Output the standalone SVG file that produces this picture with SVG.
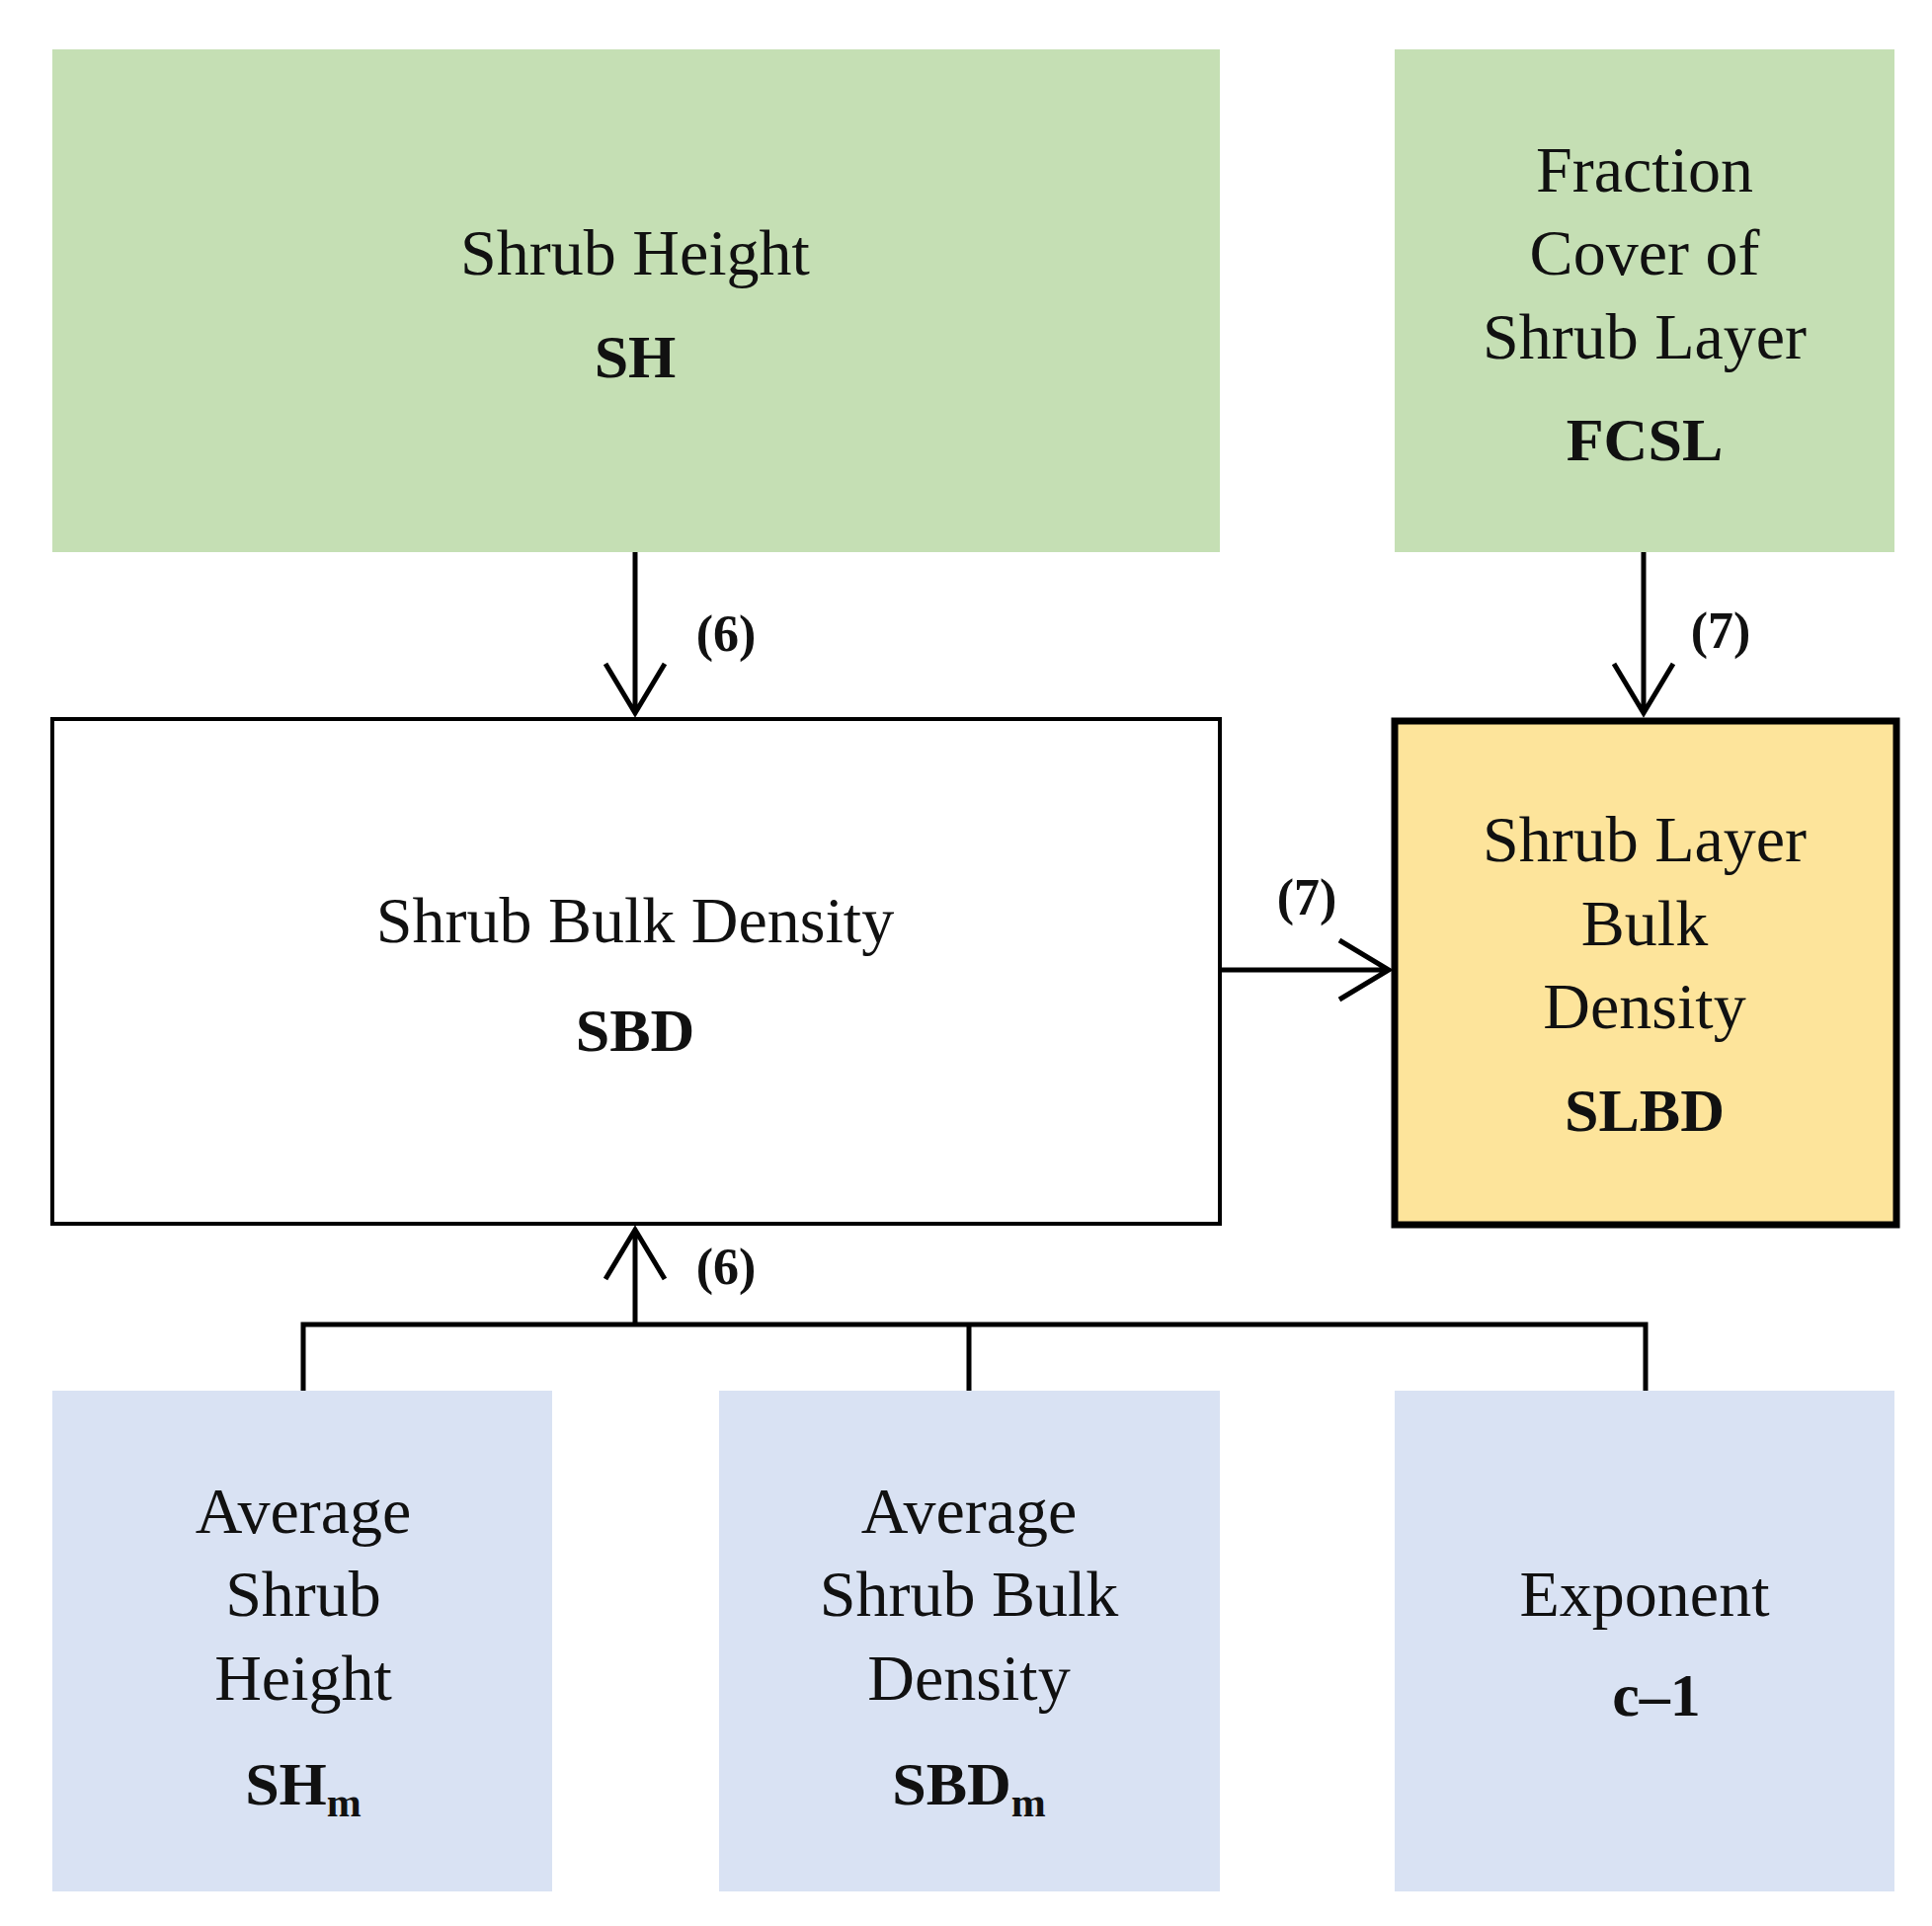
<svg xmlns="http://www.w3.org/2000/svg" width="1956" height="1950" viewBox="0 0 1956 1950">
<style>
text{font-family:"Liberation Serif","DejaVu Serif",serif;text-anchor:middle;fill:#111}
.t{font-size:66px}
.b{font-size:62px;font-weight:bold}
.l{font-size:52px;font-weight:bold}
.c{fill:none;stroke:#000;stroke-width:5}
</style>
<rect width="1956" height="1950" fill="#fff"/>
<g id="SH"><rect x="53" y="50" width="1182" height="509" fill="#c5dfb4"/>
<text class="t" x="643" y="278">Shrub Height</text><text class="b" x="643" y="382">SH</text></g>
<g id="FCSL"><rect x="1412" y="50" width="506" height="509" fill="#c5dfb4"/>
<text class="t" x="1665" y="194">Fraction</text><text class="t" x="1665" y="278">Cover of</text><text class="t" x="1665" y="363">Shrub Layer</text><text class="b" x="1665" y="466">FCSL</text></g>
<g id="SBD"><rect x="53" y="728" width="1182" height="511" fill="#fff" stroke="#000" stroke-width="4"/>
<text class="t" x="643" y="954">Shrub Bulk Density</text><text class="b" x="643" y="1064">SBD</text></g>
<g id="SLBD"><rect x="1412" y="730" width="508" height="510" fill="#fde49b" stroke="#000" stroke-width="7"/>
<text class="t" x="1665" y="872">Shrub Layer</text><text class="t" x="1665" y="957">Bulk</text><text class="t" x="1665" y="1041">Density</text><text class="b" x="1665" y="1145">SLBD</text></g>
<g id="SHm"><rect x="53" y="1408" width="506" height="507" fill="#d9e2f3"/>
<text class="t" x="307" y="1552">Average</text><text class="t" x="307" y="1636">Shrub</text><text class="t" x="307" y="1721">Height</text><text class="b" x="307" y="1827">SH<tspan font-size="42" dy="12">m</tspan></text></g>
<g id="SBDm"><rect x="728" y="1408" width="507" height="507" fill="#d9e2f3"/>
<text class="t" x="981" y="1552">Average</text><text class="t" x="981" y="1636">Shrub Bulk</text><text class="t" x="981" y="1721">Density</text><text class="b" x="981" y="1827">SBD<tspan font-size="42" dy="12">m</tspan></text></g>
<g id="EXP"><rect x="1412" y="1408" width="506" height="507" fill="#d9e2f3"/>
<text class="t" x="1665" y="1636">Exponent</text><text class="b" x="1677" y="1737">c–1</text></g>
<g id="connectors">
<path class="c" d="M643 559V722M613 672L643 722L673 672"/>
<path class="c" d="M1664 559V722M1634 672L1664 722L1694 672"/>
<path class="c" d="M1235 982H1406M1356 952L1406 982L1356 1012"/>
<path class="c" d="M307 1408V1341H1666V1408M981 1341V1408M643 1341V1245M613 1295L643 1245L673 1295"/>
<text class="l" x="735" y="659">(6)</text>
<text class="l" x="1742" y="656">(7)</text>
<text class="l" x="1323" y="926">(7)</text>
<text class="l" x="735" y="1300">(6)</text>
</g>
</svg>
